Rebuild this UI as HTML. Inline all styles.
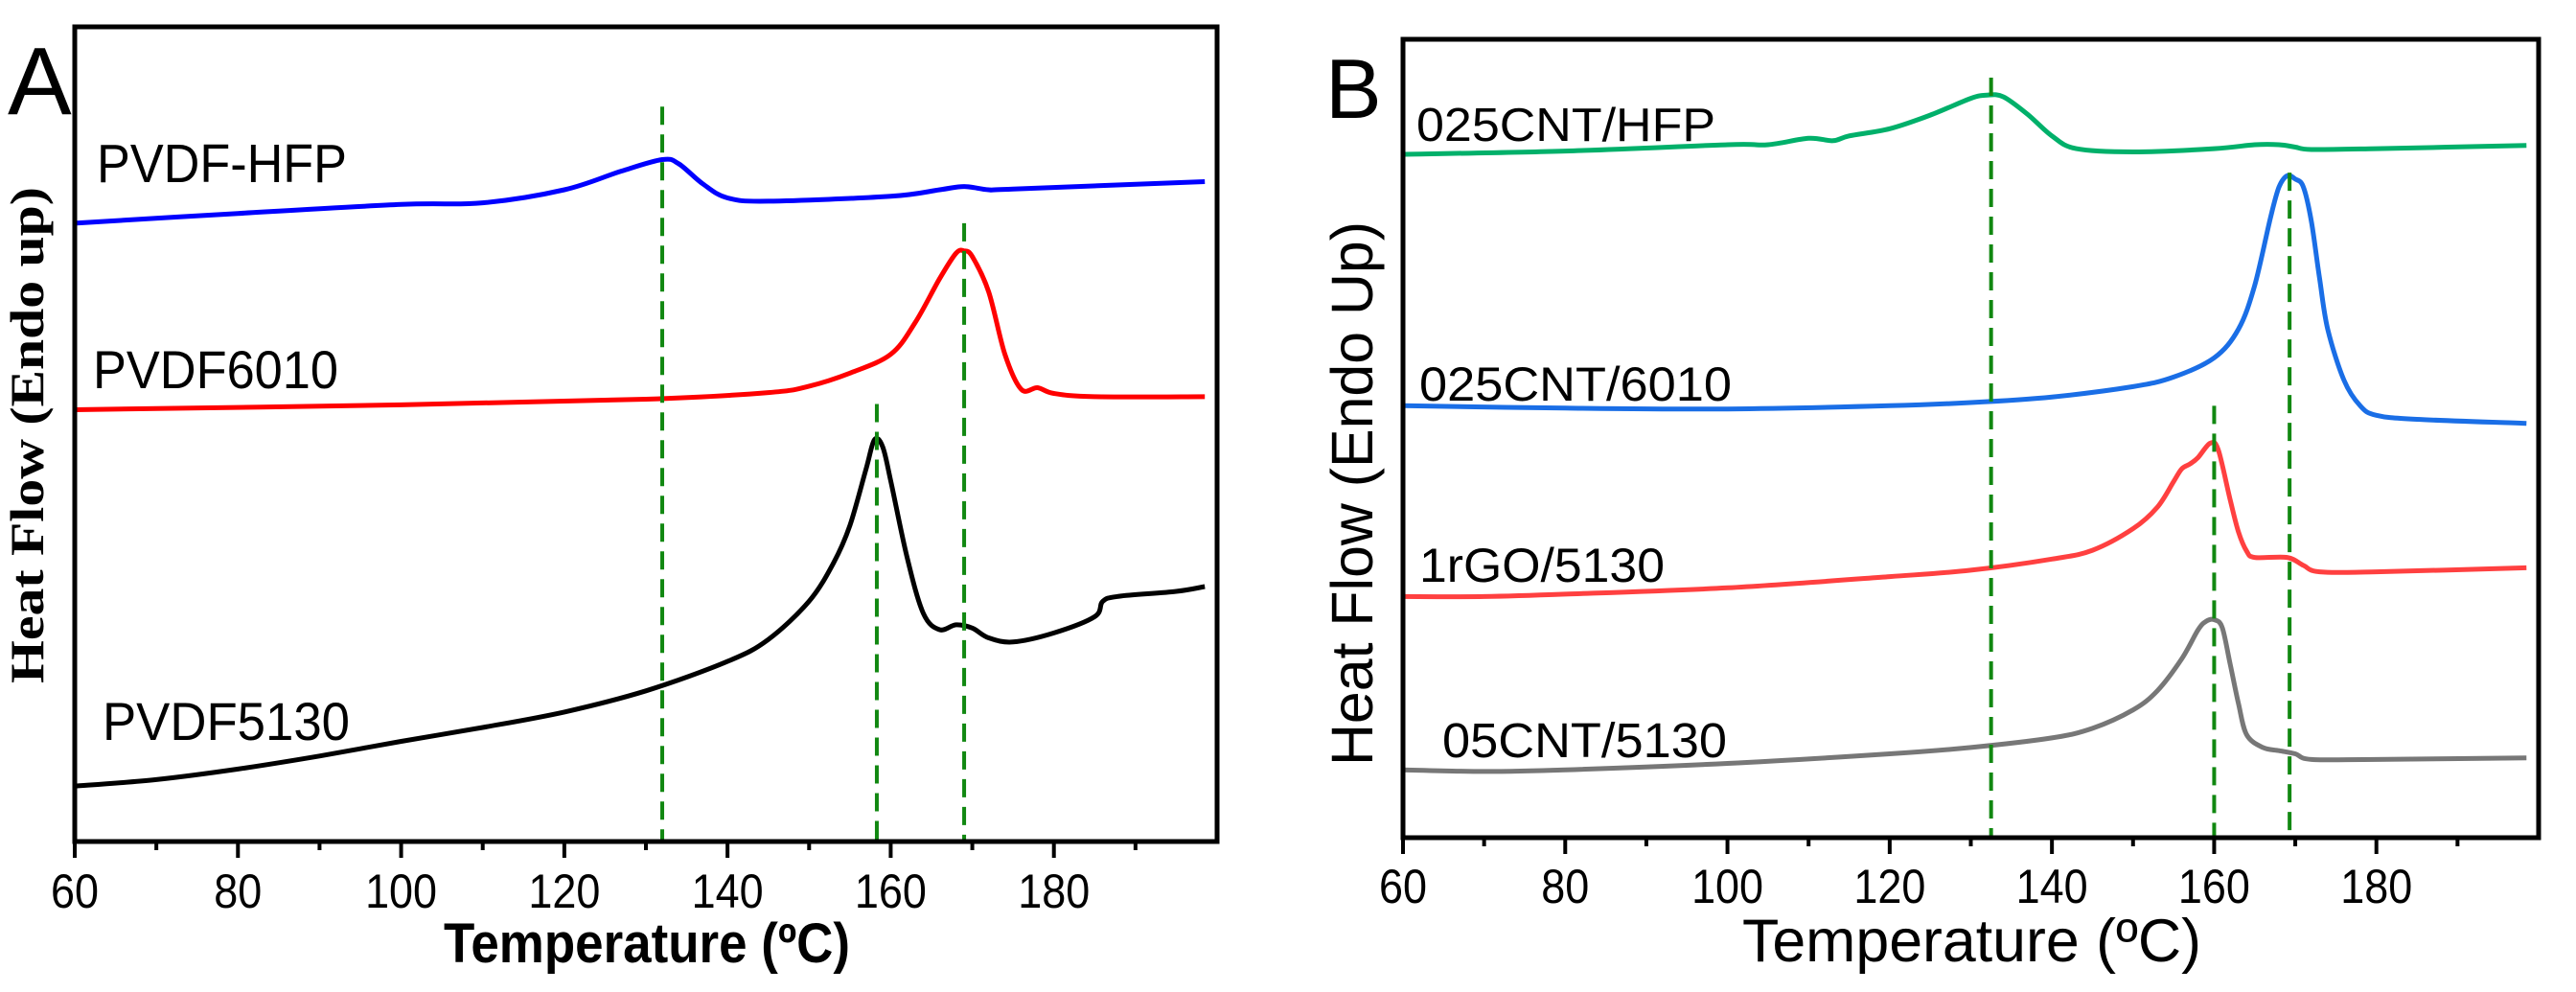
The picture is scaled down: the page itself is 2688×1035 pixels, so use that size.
<!DOCTYPE html>
<html><head><meta charset="utf-8"><style>
html,body{margin:0;padding:0;background:#fff;}
svg{display:block;}
text{font-family:"Liberation Sans",sans-serif;fill:#000;}
</style></head><body>
<svg id="chart" width="2688" height="1035" viewBox="0 0 2688 1035" xmlns="http://www.w3.org/2000/svg">
<g id="pa"></g>
<g id="pb"></g>
</svg>
<script>
// ---- Panel A data ----
const aTempHFP = [60,80,100,110,120,127,132,134,137,140,145,160,166,169,172,175,198.5];
const aValHFP  = [75.9,77.1,78.2,78.4,80.0,82.3,83.7,83.2,80.7,79.0,78.6,79.2,80.0,80.4,80.0,80.1,81.0];
const aTemp6010 = [60,100,130,145,150,155,160,163,166,168,169,170,172,174,176,178,180,185,198.5];
const aVal6010  = [53.0,53.6,54.3,55.1,55.9,57.5,59.8,63.7,69.1,72.2,72.5,71.8,67.5,59.8,55.5,55.7,55.0,54.6,54.6];
const aTemp5130 = [60,70,80,90,100,110,120,130,140,145,150,153,155,157,158,159,160,162,164,166,168,170,172,175,180,185,186,188,195,198.5];
const aVal5130  = [6.8,7.6,8.9,10.5,12.3,14.0,15.9,18.5,22.1,24.8,29.5,34.2,38.8,45.8,49.3,48.5,44.3,34.9,28.0,26.0,26.6,26.2,25.0,24.5,25.6,27.6,29.5,30.1,30.7,31.3];
const aDashT = [132,158.3,169];
const aDashTop = [90.2,53.7,75.9];
// ---- Panel B data ----
const bTempHFP = [60,80,100,105,110,113,115,120,125,130,132,134,137,140,143,150,160,165,168,170,172,180,198.5];
const bValHFP  = [85.6,86.0,86.8,86.8,87.6,87.3,87.9,88.8,90.5,92.6,93.0,92.8,90.6,87.9,86.3,85.9,86.3,86.8,86.8,86.5,86.2,86.3,86.7];
const bTemp6010 = [60,80,100,120,130,140,150,155,160,163,165,167,168,169,170,171,172,173,174,176,178,180,185,198.5];
const bVal6010  = [54.1,53.8,53.7,54.1,54.5,55.2,56.5,57.7,60.1,63.7,69.2,77.9,81.5,82.9,82.5,81.5,77.1,70.0,63.7,57.3,54.1,52.9,52.4,51.9];
const bTempGO = [60,70,80,100,120,130,140,145,150,153,155,156,157,158,159.5,160.5,162,163,164,165,169,171,173,180,198.5];
const bValGO  = [30.2,30.2,30.5,31.3,32.7,33.5,34.9,36.0,38.7,41.4,44.6,46.2,46.8,47.6,49.4,48.6,42.2,38.3,35.9,35.1,35.1,34.1,33.3,33.3,33.8];
const bTemp05 = [60,70,80,100,120,130,140,145,150,153,156,158,159,160,161,162,163,164,166,168,170,172,180,198.5];
const bVal05  = [8.5,8.3,8.5,9.3,10.5,11.3,12.5,13.7,16.0,18.4,22.4,26.0,27.1,27.3,26.3,21.6,16.8,12.9,11.3,10.9,10.5,9.8,9.8,10.0];
const bDashT = [132.5,160,169.3];
const bDashTop = [95.2,54.1,83.3];
const xTicks = [60,80,100,120,140,160,180];
const xMinor = [70,90,110,130,150,170,190];

const NS = "http://www.w3.org/2000/svg";
function mk(parent, tag, attrs, txt){
  const e = document.createElementNS(NS, tag);
  for (const k in attrs) e.setAttribute(k, attrs[k]);
  if (txt !== undefined) e.textContent = txt;
  parent.appendChild(e);
  return e;
}
function smoothPath(pts){
  let d = "M" + pts[0][0].toFixed(1) + "," + pts[0][1].toFixed(1);
  for (let i = 0; i < pts.length-1; i++){
    const p0 = pts[Math.max(i-1,0)], p1 = pts[i], p2 = pts[i+1], p3 = pts[Math.min(i+2,pts.length-1)];
    const k = 1/6;
    const c1x = p1[0] + (p2[0]-p0[0])*k, c1y = p1[1] + (p2[1]-p0[1])*k;
    const c2x = p2[0] - (p3[0]-p1[0])*k, c2y = p2[1] - (p3[1]-p1[1])*k;
    d += "C" + c1x.toFixed(1) + "," + c1y.toFixed(1) + " " + c2x.toFixed(1) + "," + c2y.toFixed(1) + " " + p2[0].toFixed(1) + "," + p2[1].toFixed(1);
  }
  return d;
}
function panel(g, box, series, dashT, dashTop){
  const sx = t => box.l + (t-60)/(200-60)*(box.r-box.l);
  const sy = v => box.b - v/100*(box.b-box.t);
  series.forEach(s => {
    const pts = s.t.map((t,i) => [sx(t), sy(s.v[i])]);
    const p = mk(g, "path", {d:smoothPath(pts), fill:"none", stroke:s.c, "stroke-width":5, "stroke-linejoin":"round"});
    
    
  });
  dashT.forEach((t,i) => {
    const l = mk(g, "line", {x1:sx(t), x2:sx(t), y1:sy(dashTop[i]), y2:box.b, stroke:"#118811", "stroke-width":4, "stroke-dasharray":"19,10"});
    
    
  });
  const r = mk(g, "rect", {x:box.l, y:box.t, width:box.r-box.l, height:box.b-box.t, fill:"none", stroke:"#000", "stroke-width":5});
  
  
  xTicks.forEach(t => {
    const tk = mk(g, "line", {x1:sx(t), x2:sx(t), y1:box.b, y2:box.b+17, stroke:"#000", "stroke-width":4});
    
    
    const tl = mk(g, "text", {x:sx(t), y:box.tickY, "font-size":50, "text-anchor":"middle", textLength:(String(t).length*25), lengthAdjust:"spacingAndGlyphs"}, String(t));
    
    
  });
  xMinor.forEach(t => {
    const tk = mk(g, "line", {x1:sx(t), x2:sx(t), y1:box.b, y2:box.b+9, stroke:"#000", "stroke-width":4});
    
    
  });
}
const gA = document.getElementById("pa");
panel(gA, {l:78,r:1270,t:28,b:878,tickY:947}, [
  {t:aTempHFP, v:aValHFP, c:"#0000ff", name:"series-pvdf-hfp"},
  {t:aTemp6010, v:aVal6010, c:"#ff0000", name:"series-pvdf6010"},
  {t:aTemp5130, v:aVal5130, c:"#000000", name:"series-pvdf5130"}
], aDashT, aDashTop);
const gB = document.getElementById("pb");
panel(gB, {l:1464,r:2649,t:41,b:874,tickY:942}, [
  {t:bTempHFP, v:bValHFP, c:"#00b06a", name:"series-025cnt-hfp"},
  {t:bTemp6010, v:bVal6010, c:"#1a6ee6", name:"series-025cnt-6010"},
  {t:bTempGO, v:bValGO, c:"#ff4040", name:"series-1rgo-5130"},
  {t:bTemp05, v:bVal05, c:"#777777", name:"series-05cnt-5130"}
], bDashT, bDashTop);
</script>
<svg style="position:absolute;left:0;top:0" width="2688" height="1035" xmlns="http://www.w3.org/2000/svg">
<text x="8" y="119" font-size="100">A</text>
<text x="101" y="190" font-size="57" textLength="261" lengthAdjust="spacingAndGlyphs">PVDF-HFP</text>
<text x="97" y="405" font-size="56" textLength="256" lengthAdjust="spacingAndGlyphs">PVDF6010</text>
<text x="107" y="772" font-size="56" textLength="258" lengthAdjust="spacingAndGlyphs">PVDF5130</text>
<text x="463" y="1004" font-size="58" font-weight="bold" textLength="424" lengthAdjust="spacingAndGlyphs">Temperature (ºC)</text>
<text transform="translate(45,454) rotate(-90)" text-anchor="middle" font-size="50" font-weight="bold" style="font-family:'Liberation Serif',serif" textLength="518" lengthAdjust="spacingAndGlyphs">Heat Flow (Endo up)</text>
<text x="1383" y="123" font-size="88">B</text>
<text x="1478" y="147" font-size="49" textLength="312" lengthAdjust="spacingAndGlyphs">025CNT/HFP</text>
<text x="1481" y="418" font-size="50" textLength="326" lengthAdjust="spacingAndGlyphs">025CNT/6010</text>
<text x="1481" y="607" font-size="50" textLength="256" lengthAdjust="spacingAndGlyphs">1rGO/5130</text>
<text x="1505" y="790" font-size="51" textLength="297" lengthAdjust="spacingAndGlyphs">05CNT/5130</text>
<text x="1818" y="1003" font-size="63" textLength="479" lengthAdjust="spacingAndGlyphs">Temperature (ºC)</text>
<text transform="translate(1432,515) rotate(-90)" text-anchor="middle" font-size="61" textLength="568" lengthAdjust="spacingAndGlyphs">Heat Flow (Endo Up)</text>
</svg>
</body></html>
